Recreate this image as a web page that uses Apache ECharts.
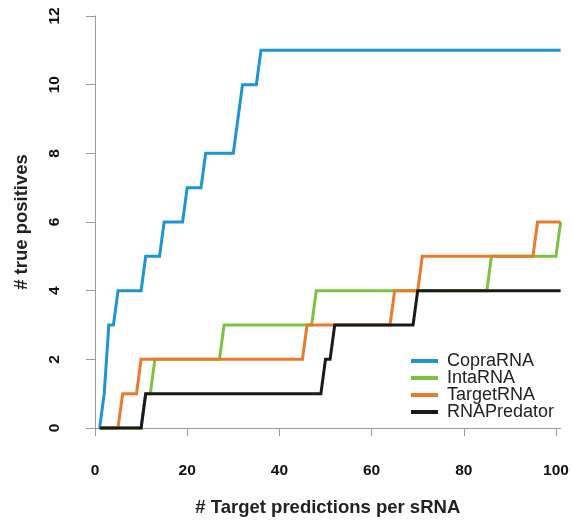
<!DOCTYPE html>
<html>
<head>
<meta charset="utf-8">
<script src="https://cdn.jsdelivr.net/npm/echarts@6/dist/echarts.min.js"></script>
<style>
  html, body { margin: 0; padding: 0; background: #fff; }
  #chart { width: 573px; height: 522px; }
</style>
</head>
<body>
<div id="chart"></div>
<script>
// cumulative true positives vs. number of predictions, [x, y] break points
const copraRNA = [[1, 0], [2, 1], [3, 3], [4, 3], [5, 4], [10, 4], [11, 5], [14, 5], [15, 6], [19, 6], [20, 7],
    [23, 7], [24, 8], [30, 8], [31, 9], [32, 10], [35, 10], [36, 11], [101, 11]];
const intaRNA = [[1, 0], [10, 0], [11, 1], [12, 1], [13, 2], [27, 2], [28, 3], [47, 3], [48, 4], [85, 4], [86, 5],
    [100, 5], [101, 6]];
const targetRNA = [[1, 0], [5, 0], [6, 1], [9, 1], [10, 2], [45, 2], [46, 3], [64, 3], [65, 4], [70, 4], [71, 5],
    [95, 5], [96, 6], [101, 6]];
const rnaPredator = [[1, 0], [10, 0], [11, 1], [49, 1], [50, 2], [51, 2], [52, 3], [69, 3], [70, 4], [101, 4]];

const seriesNames = ['CopraRNA', 'IntaRNA', 'TargetRNA', 'RNAPredator'];
const seriesColors = ['#1b95d6', '#7cc242', '#e97c2c', '#1a1a1a'];
const seriesData = [copraRNA, intaRNA, targetRNA, rnaPredator];

const xTicks = [0, 20, 40, 60, 80, 100];
const yTicks = [0, 2, 4, 6, 8, 10, 12];

const font = '"Liberation Sans", Arial, sans-serif';
const axisGray = '#9a9a9a';

const chart = echarts.init(document.getElementById('chart'), null, { renderer: 'canvas' });

const option = {
    backgroundColor: '#fff',
    animation: false,
    // one x unit is ~4.61px, the axis runs a bit past 100 so the last point fits
    grid: { left: 95, top: 16, width: 465.6, height: 414 },
    legend: {
        orient: 'vertical',
        left: 406,
        top: 347,
        itemGap: -1,
        itemWidth: 27,
        itemHeight: 4,
        icon: 'rect',
        data: seriesNames,
        textStyle: { fontFamily: font, fontSize: 18, color: '#222', padding: [0, 0, 0, 4] },
    },
    xAxis: {
        type: 'value',
        min: 0,
        max: 101,
        offset: 16,
        name: '# Target predictions per sRNA',
        nameLocation: 'middle',
        nameGap: 54,
        nameTextStyle: { fontFamily: font, fontSize: 18.5, fontWeight: 'bold', color: '#222' },
        axisLine: { lineStyle: { color: axisGray, width: 1 } },
        axisTick: { length: 8, customValues: xTicks, lineStyle: { color: axisGray } },
        axisLabel: { margin: 19, customValues: xTicks, fontFamily: font, fontSize: 15.5, fontWeight: 'bold', color: '#111' },
        splitLine: { show: false },
    },
    yAxis: {
        type: 'value',
        min: yTicks[0],
        max: yTicks[yTicks.length - 1],
        interval: 2,
        offset: 14,
        name: '# true positives',
        nameLocation: 'middle',
        nameGap: 50,
        nameTextStyle: { fontFamily: font, fontSize: 18.5, fontWeight: 'bold', color: '#222' },
        axisLine: { show: true, lineStyle: { color: axisGray, width: 1 } },
        axisTick: { show: true, length: 9, lineStyle: { color: axisGray } },
        axisLabel: { rotate: 90, margin: 18, fontFamily: font, fontSize: 15.5, fontWeight: 'bold', color: '#111' },
        splitLine: { show: false },
    },
    series: seriesNames.map((name, i) => ({
        name: name,
        type: 'line',
        data: seriesData[i],
        showSymbol: false,
        clip: false,
        color: seriesColors[i],
        lineStyle: { width: 3, color: seriesColors[i], join: 'miter' },
    })),
};

chart.setOption(option);
</script>
</body>
</html>
